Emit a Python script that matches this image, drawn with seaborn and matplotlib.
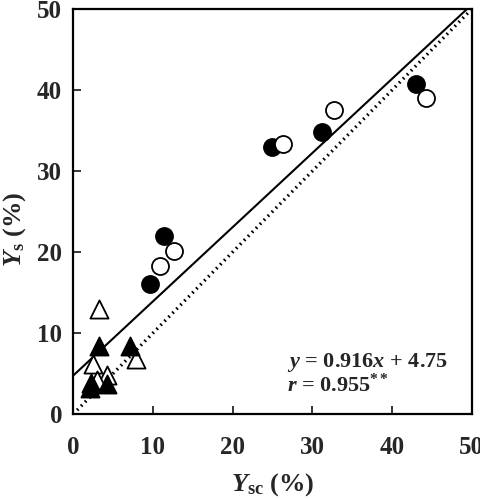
import matplotlib
matplotlib.use("Agg")
import matplotlib.pyplot as plt
import seaborn as sns
import numpy as np
import pandas as pd

# values
circ_filled_x = [9.6, 11.4, 24.9, 31.2, 43.0]
circ_filled_y = [16.1, 22.0, 33.0, 34.8, 40.7]
circ_open_x = [10.9, 12.6, 26.3, 32.7, 44.3]
circ_open_y = [18.3, 20.1, 33.3, 37.5, 39.0]
tri_filled_x = [3.2, 7.1, 2.3, 4.2, 2.1]
tri_filled_y = [8.4, 8.4, 3.9, 3.7, 3.2]
tri_open_x = [3.3, 7.9, 2.5, 4.2, 3.0]
tri_open_y = [13.0, 6.8, 6.2, 4.8, 4.2]
SLOPE, INTERCEPT = 0.916, 4.75

sns.set_style("ticks")
plt.rcParams['font.family'] = ['Liberation Serif', 'DejaVu Serif']
plt.rcParams['mathtext.fontset'] = 'custom'
plt.rcParams['mathtext.rm'] = 'Liberation Serif:bold'
plt.rcParams['mathtext.it'] = 'Liberation Serif:bold:italic'
plt.rcParams['mathtext.bf'] = 'Liberation Serif:bold'

fig = plt.figure(figsize=(4.81, 4.99), dpi=100)
ax = fig.add_axes([0.152, 0.170, 0.829, 0.812])

# regression line and 1:1 line
xx = np.array([0, (50 - INTERCEPT) / SLOPE])
ax.plot(xx, SLOPE * xx + INTERCEPT, color='black', lw=1.5, zorder=1)
ax.plot([0, 50], [0, 50], color='black', lw=2.4, ls=(0, (0.5, 1.2)), zorder=1)

groups = [
    (circ_filled_x, circ_filled_y, 'o', 'black', 150),
    (circ_open_x, circ_open_y, 'o', 'white', 150),
    (tri_open_x, tri_open_y, '^', 'white', 170),
    (tri_filled_x, tri_filled_y, '^', 'black', 170),
]
for gx, gy, m, fc, s in groups:
    d = pd.DataFrame({'x': gx, 'y': gy})
    sns.scatterplot(data=d, x='x', y='y', marker=m, s=s, color=fc,
                    edgecolor='black', linewidth=1.3, ax=ax, zorder=3)

ax.set_xlim(0, 50)
ax.set_ylim(0, 50)
ax.set_xticks([0, 10, 20, 30, 40, 50])
ax.set_yticks([0, 10, 20, 30, 40, 50])
ax.tick_params(direction='in', length=6, width=1.3, labelsize=18,
               top=False, right=False)
ax.tick_params(axis='x', pad=16)
ax.tick_params(axis='y', pad=8)
for lab in ax.get_xticklabels() + ax.get_yticklabels():
    lab.set_fontweight('bold')
for sp in ax.spines.values():
    sp.set_linewidth(1.6)
    sp.set_color('black')

ax.set_xlabel(r'$Y_{\mathrm{sc}}$ (%)', fontsize=19, fontweight='bold')
ax.set_ylabel(r'$Y_{\mathrm{s}}$ (%)', fontsize=19, fontweight='bold')
ax.xaxis.set_label_coords(0.5, -0.14)
ax.yaxis.set_label_coords(-0.113, 0.455)

ax.text(26.8, 5.8, r'$y$ = 0.916$x$ + 4.75', fontsize=16, fontweight='bold', va='baseline')
ax.text(26.8, 2.7, r'$r$ = 0.955$^{**}$', fontsize=16, fontweight='bold', va='baseline')

fig.savefig('out.png', dpi=100)
